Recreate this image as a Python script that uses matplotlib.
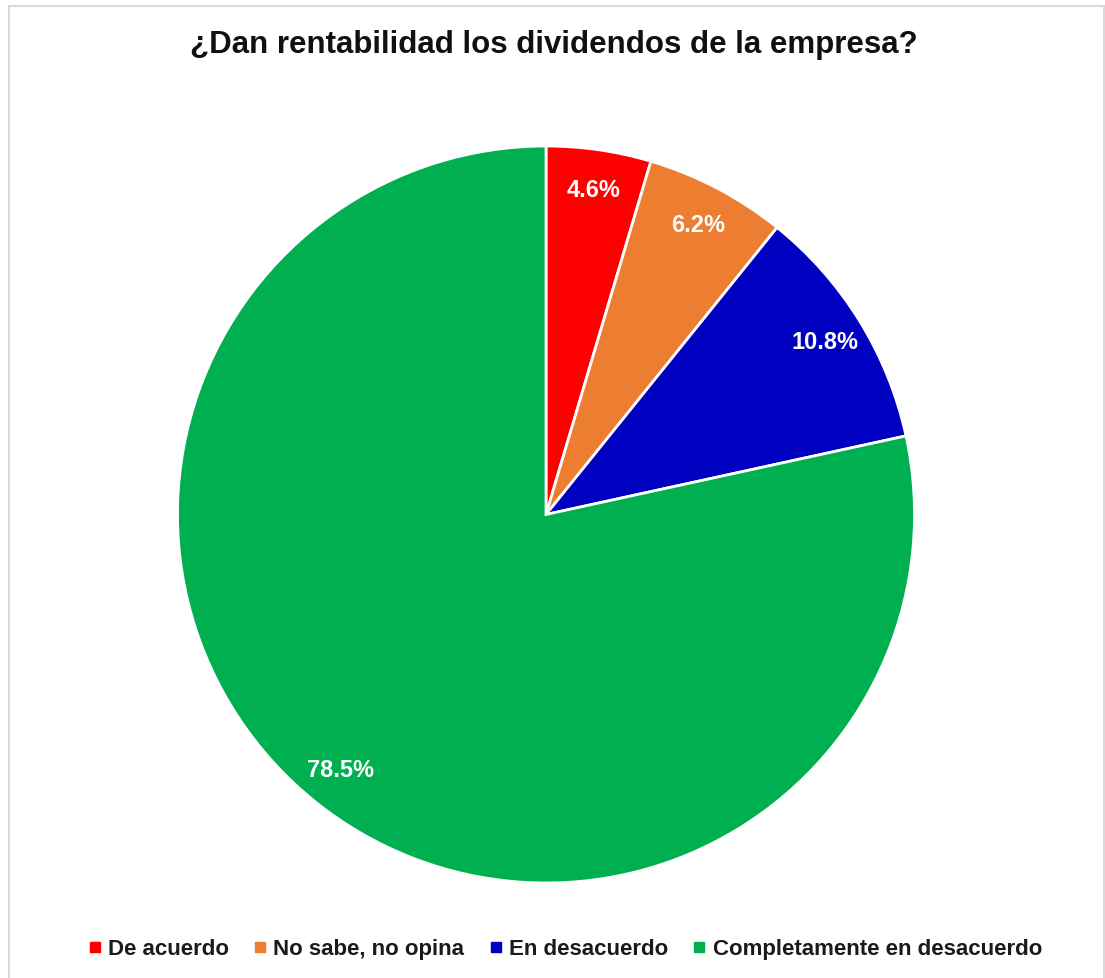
import numpy as np
import matplotlib
matplotlib.use("Agg")
import matplotlib.pyplot as plt
from matplotlib.patches import Rectangle
from matplotlib.lines import Line2D

plt.rcParams['font.family'] = ['Liberation Sans', 'DejaVu Sans']

categorias = ['De acuerdo', 'No sabe, no opina', 'En desacuerdo',
              'Completamente en desacuerdo']
porcentajes = [4.6, 6.2, 10.8, 78.5]
colores = ['#FF0000', '#ED7D31', '#0000C0', '#00B050']

W, H = 1105, 979
fig = plt.figure(figsize=(W / 100, H / 100), dpi=100)

# marco gris claro alrededor del gráfico
fig.patches.append(Rectangle((9 / W, -0.05), (1104 - 9) / W, 1.05 - 7 / H,
                             transform=fig.transFigure, fill=False,
                             edgecolor='#D9D9D9', linewidth=1.5))

cx, cy, r = 546, 515.5, 368.5
ax = fig.add_axes([(cx - r) / W, (H - cy - r) / H, 2 * r / W, 2 * r / H])
wedges, _ = ax.pie(porcentajes, colors=colores, startangle=90,
                   counterclock=False, radius=1,
                   wedgeprops=dict(edgecolor='white', linewidth=2))
ax.set_xlim(-1, 1)
ax.set_ylim(-1, 1)
ax.set_aspect('auto')
ax.axis('off')

# etiquetas de porcentaje dentro de cada sector
for w, v in zip(wedges, porcentajes):
    ang = np.deg2rad((w.theta1 + w.theta2) / 2)
    d = 0.89
    ax.text(d * np.cos(ang), d * np.sin(ang), f'{v:.1f}%', ha='center',
            va='center', color='white', fontsize=17, fontweight='bold')

fig.text(554 / W, 1 - 45 / H, '¿Dan rentabilidad los dividendos de la empresa?',
         ha='center', va='center', fontsize=22.5, fontweight='bold',
         color='#111111')

handles = [Line2D([], [], marker='s', linestyle='none', markersize=7,
                  markerfacecolor=c, markeredgecolor=c) for c in colores]
fig.legend(handles, categorias, loc='center', bbox_to_anchor=(565 / W, 1 - 950 / H),
           ncol=4, frameon=False, handlelength=0.6, handletextpad=0.3,
           columnspacing=1.1, prop=dict(size=16, weight='bold'),
           labelcolor='#1A1A1A')

fig.savefig('out.png', dpi=100)
